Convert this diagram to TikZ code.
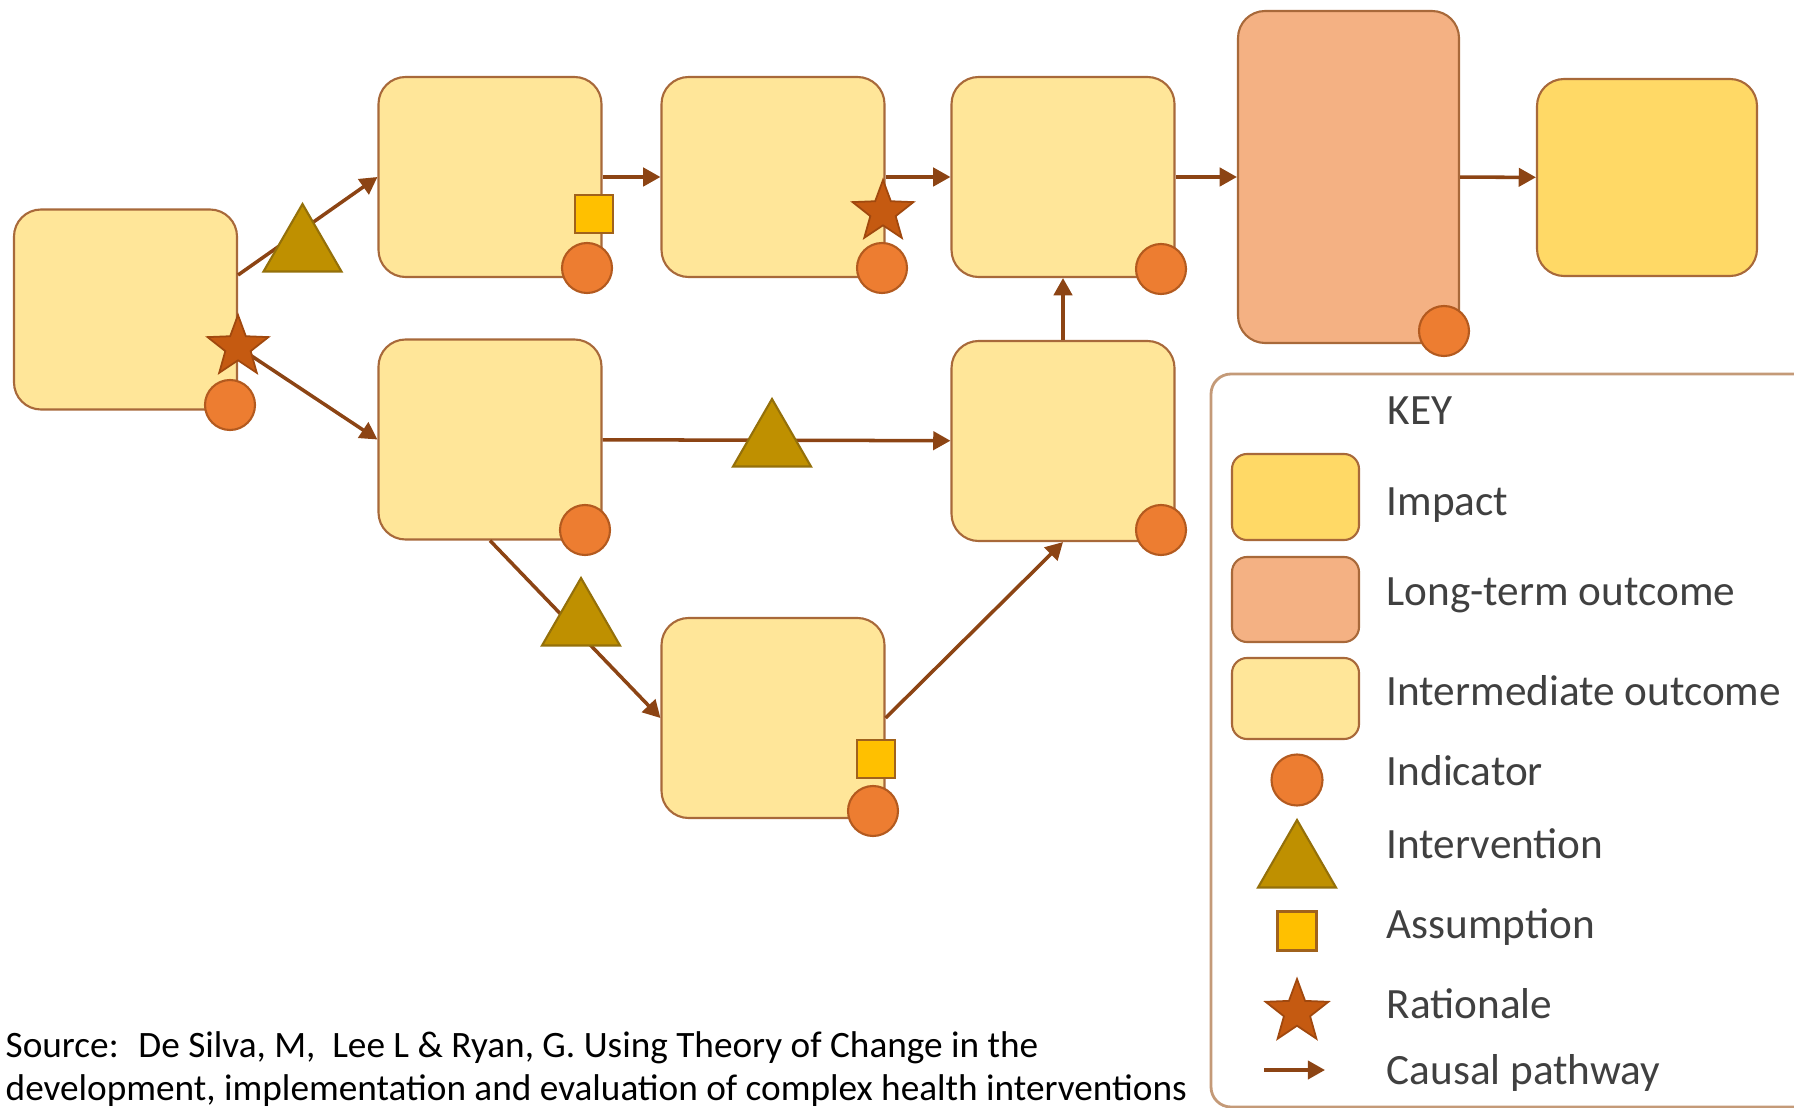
\documentclass[tikz,border=0pt]{standalone}
\usepackage{fontspec}
\setmainfont{Carlito}
\usetikzlibrary{shapes.geometric,arrows.meta}
\definecolor{boxline}{HTML}{A8693A}
\definecolor{midfill}{HTML}{FFE699}
\definecolor{longfill}{HTML}{F4B183}
\definecolor{impactfill}{HTML}{FFD966}
\definecolor{pathcol}{HTML}{8C4414}
\definecolor{indfill}{HTML}{ED7D31}
\definecolor{indline}{HTML}{B35A1F}
\definecolor{trifill}{HTML}{BF9000}
\definecolor{triline}{HTML}{94700A}
\definecolor{sqfill}{HTML}{FFC000}
\definecolor{sqline}{HTML}{A0621C}
\definecolor{starfill}{HTML}{C55A11}
\definecolor{starline}{HTML}{A0480E}
\definecolor{keyline}{HTML}{C49A78}
\definecolor{keytext}{HTML}{404040}
\begin{document}
\begin{tikzpicture}[x=0.1mm, y=-0.1mm,
     font=\fontsize{12.3}{15}\selectfont,
     text=keytext,
     outcome/.style={draw=boxline, line width=0.6pt, fill=midfill, rounded corners=2.7mm,
        minimum width=22.3mm, minimum height=20mm, inner sep=0pt},
     causal/.style={draw=pathcol, line width=1pt, -{Triangle[length=4.9pt,width=5.2pt]}},
     indicator/.style={circle, draw=indline, line width=0.6pt, fill=indfill, minimum size=5mm, inner sep=0pt},
     intervention/.style={regular polygon, regular polygon sides=3, draw=triline, line width=0.6pt,
        fill=trifill, minimum size=9mm, inner sep=0pt},
     assumption/.style={rectangle, draw=sqline, line width=0.6pt, fill=sqfill, minimum size=3.8mm, inner sep=0pt},
     rationale/.style={star, star points=5, star point ratio=2.4, draw=starline, line width=0.5pt,
        fill=starfill, minimum size=6.4mm, inner sep=0pt},
     keylabel/.style={anchor=base west, inner sep=0pt}]
\useasboundingbox (0,0) rectangle (1794,1108);
\clip (0,0) rectangle (1794,1108);
\node[outcome] (a) at (125.5,309.5) {};
\node[outcome] (b1) at (490,177) {};
\node[outcome] (b2) at (490,439.5) {};
\node[outcome] (c1) at (773,177) {};
\node[outcome] (c3) at (773,718) {};
\node[outcome] (d1) at (1063,177) {};
\node[outcome] (d2) at (1063,441) {};
\node[outcome, fill=longfill, minimum width=22.1mm, minimum height=33.2mm] (e) at (1348.5,177) {};
\node[outcome, fill=impactfill, minimum width=22mm, minimum height=19.7mm] (f) at (1647,177.5) {};
\draw[causal] ([yshift=3.45mm]a.east) -- (b1.west);
\draw[causal] ([yshift=-3.75mm]a.east) -- (b2.west);
\foreach \from/\to in {b1/c1, c1/d1, d1/e, e/f, b2/d2, d2/d1}
    \draw[causal] (\from) -- (\to);
\draw[causal] (b2.south) -- (c3.west);
\draw[causal] (c3.east) -- (d2.south);
\node[intervention] (t1) at (302.5,249) {};
\node[intervention] (t2) at (772,444) {};
\node[intervention] (t3) at (581,623) {};
\node[rationale] (s1) at (238,347) {};
\node[rationale] (s2) at (883,212) {};
\node[assumption] (q1) at (594,214) {};
\node[assumption] (q2) at (876,759) {};
\foreach \x/\y [count=\i] in {230/405, 587/268, 882/268, 1161/269, 1444/331, 585/530, 1161/530, 873/811}
    \node[indicator] (ind\i) at (\x,\y) {};
\draw[keyline, line width=0.8pt, rounded corners=2mm] (1211,374) rectangle (1830,1107);
\node[keylabel] (key) at (1387,425) {KEY};
\node[outcome, fill=impactfill, minimum width=12.7mm, minimum height=8.6mm, rounded corners=1.5mm] (kimpact) at (1295.5,497) {};
\node[outcome, fill=longfill, minimum width=12.7mm, minimum height=8.5mm, rounded corners=1.5mm] (klong) at (1295.5,599.5) {};
\node[outcome, minimum width=12.7mm, minimum height=8.1mm, rounded corners=1.5mm] (kmid) at (1295.5,698.5) {};
\node[indicator, minimum size=5.1mm] (kind) at (1297,780) {};
\node[intervention] (ktri) at (1297,865) {};
\node[assumption, minimum size=3.9mm] (ksq) at (1297,931) {};
\node[rationale, minimum size=6.6mm] (kstar) at (1297,1012) {};
\coordinate (kfrom) at (1264,1070);
\coordinate (kto) at (1325,1070);
\draw[causal] (kfrom) -- (kto);
\foreach \y/\t in {515/Impact, 605/Long-term outcome, 705/Intermediate outcome, 785/Indicator,
    858/Intervention, 938/Assumption, 1018/Rationale, 1084/Causal pathway}
    \node[keylabel] (lab\y) at (1386,\y) {\t};
\node[keylabel, text=black, font=\fontsize{10.6}{12.2}\selectfont] (src1) at (5,1057)
    {Source:~ De Silva, M,~ Lee L \& Ryan, G. Using Theory of Change in the};
\node[keylabel, text=black, font=\fontsize{10.6}{12.2}\selectfont] (src2) at (5,1100)
    {development, implementation and evaluation of complex health interventions};
\end{tikzpicture}
\end{document}
